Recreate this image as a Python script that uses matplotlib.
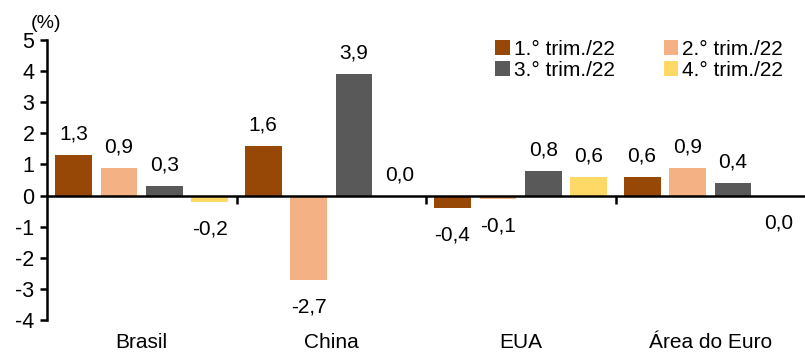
import numpy as np
import matplotlib.pyplot as plt
from matplotlib.transforms import blended_transform_factory, offset_copy

plt.rcParams['font.family'] = ['Liberation Sans', 'DejaVu Sans']
plt.rcParams['axes.unicode_minus'] = False

# PIB trimestral, variação (%) por região
categories = ['Brasil', 'China', 'EUA', 'Área do Euro']
series_names = ['1.° trim./22', '2.° trim./22', '3.° trim./22', '4.° trim./22']
q1 = [1.3, 1.6, -0.4, 0.6]
q2 = [0.9, -2.7, -0.1, 0.9]
q3 = [0.3, 3.9, 0.8, 0.4]
q4 = [-0.2, 0.0, 0.6, -0.0]
colors = ['#974706', '#F4B183', '#595959', '#FFD966']

fig = plt.figure(figsize=(8.05, 3.54), dpi=100)
ax = fig.add_axes([47 / 805, 1 - 320 / 354, 758 / 805, 280 / 354])

n = len(categories)
x = np.arange(n)
slot = 0.24
width = 0.195
fs = 15

handles = []
for i, (vals, name, c) in enumerate(zip([q1, q2, q3, q4], series_names, colors)):
    pos = x + (i - 1.5) * slot
    b = ax.bar(pos, vals, width=width, color=c, label=name, zorder=2)
    handles.append(b)
    for xp, v in zip(pos, vals):
        txt = '{:.1f}'.format(abs(v) if v == 0 else v).replace('.', ',')
        off = -27 if np.signbit(v) else 21
        tr = offset_copy(ax.transData, fig=fig, x=0, y=off, units='dots')
        ax.text(xp, v, txt, transform=tr, ha='center', va='center', fontsize=fs)

ax.set_xlim(-0.5, n - 0.5)
ax.set_ylim(-4, 5)
ax.set_yticks(range(-4, 6))
ax.tick_params(axis='y', direction='out', length=5, width=1.8, labelsize=fs + 0.5, pad=4)

# eixo x na linha do zero, com marcas separando os grupos
ax.spines['bottom'].set_position(('data', 0))
ax.spines['bottom'].set_linewidth(1.8)
ax.spines['left'].set_linewidth(1.8)
ax.spines['top'].set_visible(False)
ax.spines['right'].set_visible(False)
ax.set_xticks(np.arange(0.5, n - 0.5, 1))
ax.set_xticklabels([])
ax.tick_params(axis='x', direction='out', length=6, width=1.8)

# nomes das regiões na base do gráfico
tb = blended_transform_factory(ax.transData, ax.transAxes)
for xi, cat in zip(x, categories):
    ax.text(xi, -0.115, cat, transform=tb, ha='center', va='bottom', fontsize=fs)

ax.text(-0.022, 1.03, '(%)', transform=ax.transAxes, ha='left', va='bottom', fontsize=fs - 1)

# legenda em duas colunas, preenchida por linha
order = [0, 2, 1, 3]
ax.legend([handles[k] for k in order], [series_names[k] for k in order],
          ncol=2, loc='upper left', bbox_to_anchor=(0.58, 1.03), frameon=False,
          fontsize=fs, handlelength=0.7, handleheight=0.7, handletextpad=0.2,
          columnspacing=2.35, labelspacing=0.1, borderaxespad=0)

fig.savefig('out.png', dpi=100)
